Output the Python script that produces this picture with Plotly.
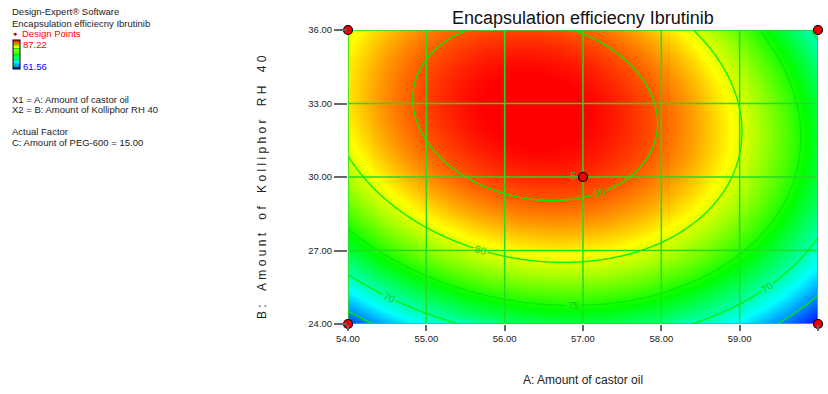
import numpy as np
import plotly.graph_objects as go

# ---- data ----
x_ticks = [54, 55, 56, 57, 58, 59, 60]          # A: Amount of castor oil
y_ticks = [24, 27, 30, 33, 36]                  # B: Amount of Kolliphor RH 40
contour_levels = [65, 70, 75, 80, 85]
z_min, z_max = 61.56, 87.22                     # colour legend limits

# coded quadratic model (x1 = (A-57)/3, x2 = (B-30)/6), C = 15.00
coef_intercept = 86.0
coef_A = -3.05
coef_B = 6.16
coef_AB = -2.38
coef_A2 = -10.13
coef_B2 = -7.38

design_A = [54, 54, 60, 60, 57]
design_B = [24, 36, 24, 36, 30]
design_label = ["", "", "", "", "5"]

# ---- surface ----
A = np.linspace(x_ticks[0], x_ticks[-1], 241)
B = np.linspace(y_ticks[0], y_ticks[-1], 241)
AA, BB = np.meshgrid(A, B)
x1 = (AA - 57) / 3
x2 = (BB - 30) / 6
Z = (coef_intercept + coef_A * x1 + coef_B * x2 + coef_AB * x1 * x2
     + coef_A2 * x1 ** 2 + coef_B2 * x2 ** 2)

L, R, T, Bm = 348, 10, 30, 70
W, H = 828, 394
pw, ph = W - L - R, H - T - Bm


def px(x):
    return (x - L) / pw


def py(y):
    return (H - Bm - y) / ph


GRID = "#22DD22"
colorscale = [[0.0, "#0000FF"], [0.25, "#00FFFF"], [0.5, "#00FF00"],
              [0.75, "#FFFF00"], [1.0, "#FF0000"]]

fig = go.Figure()
fig.add_trace(go.Contour(
    x=A, y=B, z=Z, zmin=z_min, zmax=z_max, zauto=False,
    colorscale=colorscale,
    autocontour=False,
    contours=dict(start=contour_levels[0], end=contour_levels[-1],
                  size=contour_levels[1] - contour_levels[0],
                  coloring="heatmap", showlabels=True,
                  labelfont=dict(size=10, color="#11CC11", family="Liberation Sans")),
    line=dict(color="#00EE00", width=1.3),
    showscale=True,
    colorbar=dict(x=px(13), xanchor="left", y=py(40), yanchor="top",
                  lenmode="pixels", len=29, thickness=7, xpad=0, ypad=0,
                  outlinewidth=1, outlinecolor="#000", ticks="",
                  showticklabels=False),
    hoverinfo="skip",
))

# grid lines built from the tick values
gx, gy = [], []
for v in x_ticks:
    gx += [v, v, None]
    gy += [y_ticks[0], y_ticks[-1], None]
for v in y_ticks:
    gx += [x_ticks[0], x_ticks[-1], None]
    gy += [v, v, None]
fig.add_trace(go.Scatter(x=gx, y=gy, mode="lines",
                         line=dict(color=GRID, width=1.5),
                         hoverinfo="skip", showlegend=False, cliponaxis=False))

fig.add_trace(go.Scatter(
    x=design_A, y=design_B, mode="markers+text", text=design_label,
    textposition="middle left",
    textfont=dict(size=10, color="#33BB33", family="Liberation Sans"),
    marker=dict(size=9, color="#EE0000", line=dict(color="#000", width=1.2)),
    cliponaxis=False, showlegend=False, hoverinfo="skip"))

font = "Liberation Sans, Arial, sans-serif"
fig.update_layout(
    width=W, height=H, margin=dict(l=L, r=R, t=T, b=Bm),
    paper_bgcolor="white", plot_bgcolor="white", showlegend=False,
    font=dict(family=font, color="#222"),
    xaxis=dict(range=[x_ticks[0], x_ticks[-1]], tickvals=x_ticks,
               ticktext=[f"{v:.2f}" for v in x_ticks], ticks="outside",
               ticklen=6, tickcolor="#666", tickwidth=1.5,
               tickfont=dict(size=9.5, color="#222"),
               showgrid=False, zeroline=False, showline=False),
    yaxis=dict(range=[y_ticks[0], y_ticks[-1]], tickvals=y_ticks,
               ticktext=[f"{v:.2f}" for v in y_ticks], ticks="outside",
               ticklen=13, tickcolor="#666", tickwidth=1.5,
               tickfont=dict(size=9.5, color="#222"),
               showgrid=False, zeroline=False, showline=False),
)

ann = []


def add_text(x, y, text, size=9.5, color="#222", xanchor="left", angle=0):
    ann.append(dict(x=px(x), y=py(y), xref="paper", yref="paper", text=text,
                    showarrow=False, xanchor=xanchor, yanchor="middle",
                    textangle=angle, font=dict(size=size, color=color, family=font)))


add_text(583, 18, "Encapsulation efficiecny Ibrutinib", size=18, color="#111",
         xanchor="center")
add_text(583, 380, "A: Amount of castor oil", size=12, xanchor="center")
ytitle = "\u00a0\u00a0\u00a0\u00a0".join("\u00a0".join(w) for w in
                                          ["B:", "Amount", "of", "Kolliphor", "RH", "40"])
add_text(262, 187, ytitle, size=12, xanchor="center", angle=-90)

add_text(10, 12, "Design-Expert® Software")
add_text(10, 23, "Encapsulation efficiecny Ibrutinib")
add_text(11, 33.5, "●", size=7, color="#AA0000")
add_text(20, 33.5, "Design Points", color="#FF0000")
add_text(21, 44, "87.22", color="#FF0000")
add_text(21, 66, "61.56", color="#0000FF")
add_text(10, 99, "X1 = A: Amount of castor oil")
add_text(10, 109.5, "X2 = B: Amount of Kolliphor RH 40")
add_text(10, 131, "Actual Factor")
add_text(10, 142, "C: Amount of PEG-600 = 15.00")
fig.update_layout(annotations=ann)

fig.write_html("out.html")
